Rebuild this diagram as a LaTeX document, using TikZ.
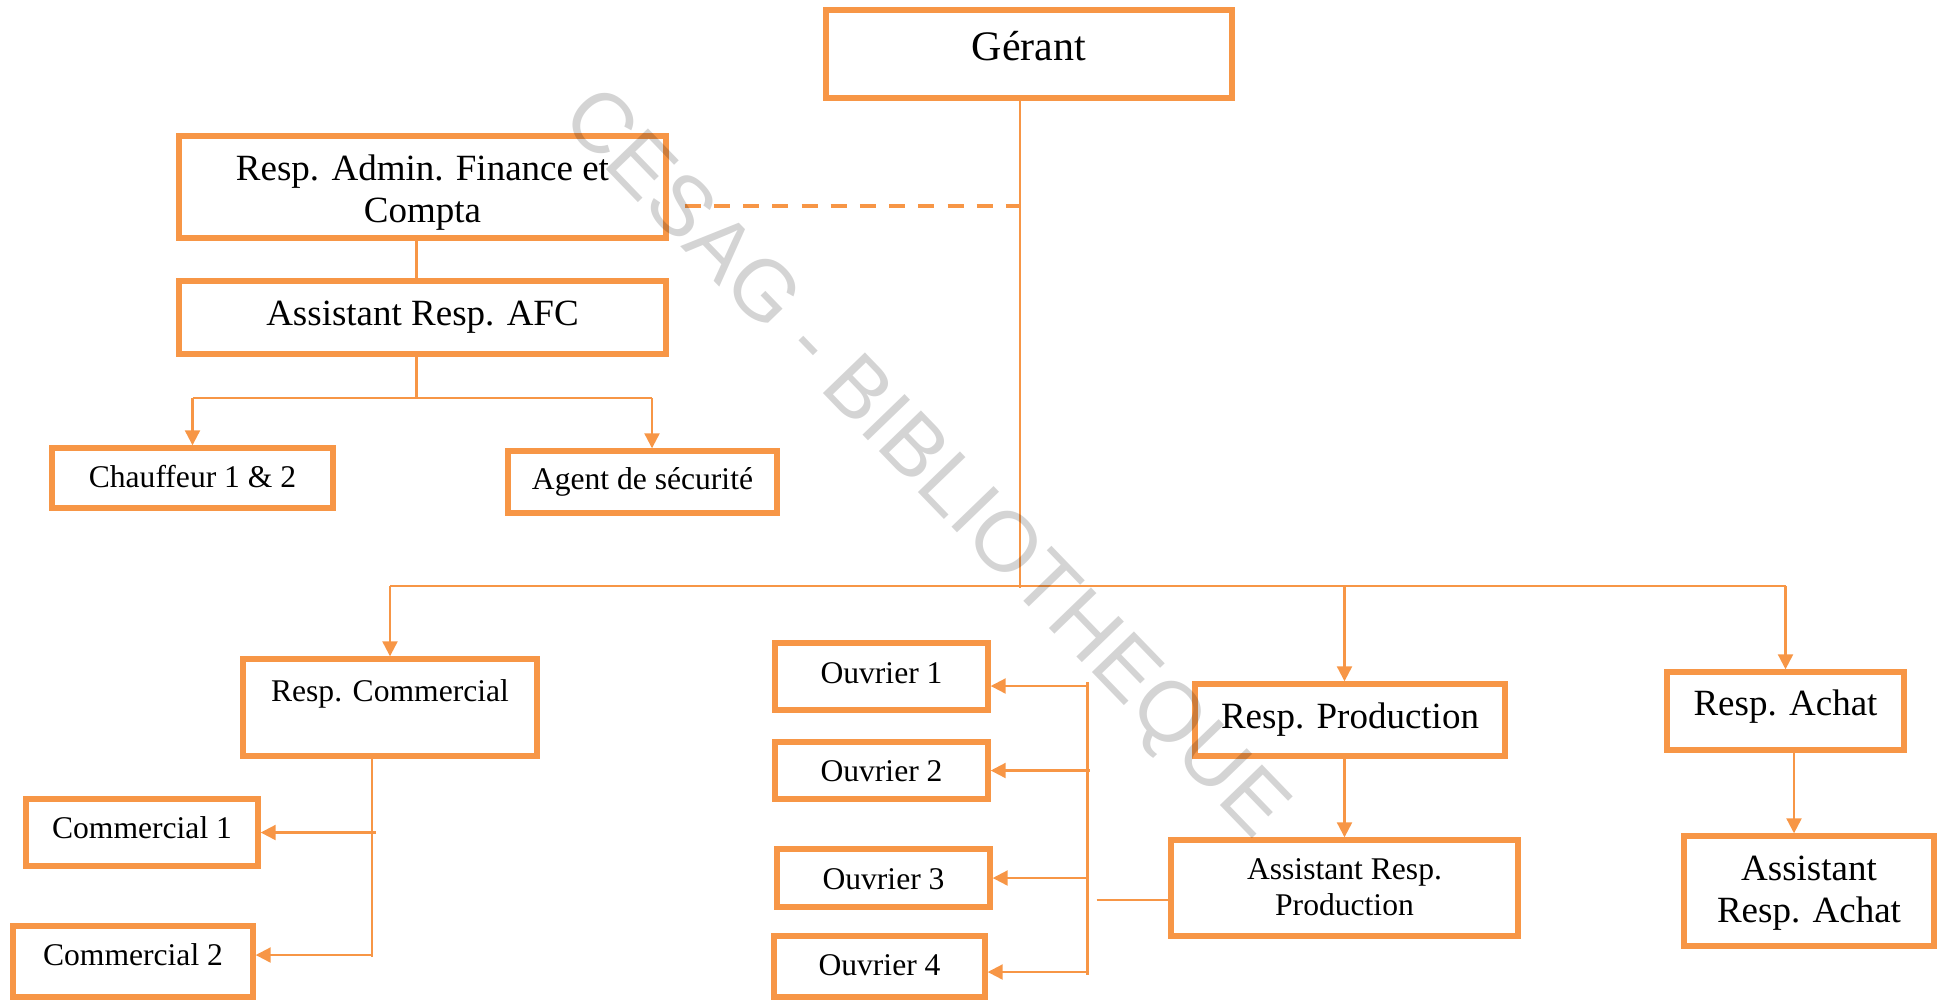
\documentclass[tikz,border=0pt]{standalone}
\usepackage{fontspec}
\setmainfont{Liberation Serif}
\newfontfamily\wmfont{Liberation Sans}
\usetikzlibrary{fit,arrows.meta}
\definecolor{orng}{HTML}{F79646}

\begin{document}
\begin{tikzpicture}[x=0.5bp,y=-0.5bp,
  box/.style={draw=orng, line width=2.7bp, inner sep=0pt},
  link/.style={draw=orng, line width=1.1bp},
  arr/.style={link, -{Triangle[length=7.5bp,width=7.5bp]}},
  dashlink/.style={draw=orng, line width=2bp, dash pattern=on 8bp off 6.6bp},
  head/.style={font=\fontsize{21bp}{25bp}\selectfont, anchor=base, inner sep=0pt},
  big/.style={font=\fontsize{18.5bp}{22bp}\selectfont, anchor=base, inner sep=0pt},
  small/.style={font=\fontsize{15.8bp}{19bp}\selectfont, anchor=base, inner sep=0pt},
  wm/.style={rotate=-46, font=\wmfont\fontsize{42.5bp}{50bp}\selectfont, text=black, text opacity=0.17, inner sep=0pt}
]
\useasboundingbox (0,0) rectangle (1946,1002);

% boxes
\node[box, fit={(826,10) (1232,98)}] (ger) {};
\node[box, fit={(179,136) (666,238)}] (adm) {};
\node[box, fit={(179,281) (666,354)}] (afc) {};
\node[box, fit={(52,448) (333,508)}] (chf) {};
\node[box, fit={(508,451) (777,513)}] (agt) {};
\node[box, fit={(243,659) (537,756)}] (rc) {};
\node[box, fit={(26,799) (258,866)}] (c1) {};
\node[box, fit={(13,926) (253,997)}] (c2) {};
\node[box, fit={(775,643) (988,710)}] (o1) {};
\node[box, fit={(775,742) (988,799)}] (o2) {};
\node[box, fit={(777,849) (990,907)}] (o3) {};
\node[box, fit={(774,936) (985,997)}] (o4) {};
\node[box, fit={(1195,684) (1505,756)}] (rp) {};
\node[box, fit={(1171,840) (1518,936)}] (arp) {};
\node[box, fit={(1667,672) (1904,750)}] (ra) {};
\node[box, fit={(1684,836) (1934,946)}] (ara) {};

% labels
\node[head] (gerT) at (ger |- 0,60.5) {Gérant};
\node[big] (admT1) at (adm |- 0,180) {Resp. Admin. Finance et};
\node[big] (admT2) at (adm |- 0,222) {Compta};
\node[big] (afcT) at (afc |- 0,325) {Assistant Resp. AFC};
\node[small] (chfT) at (chf |- 0,487) {Chauffeur 1 \& 2};
\node[small] (agtT) at (agt |- 0,489) {Agent de sécurité};
\node[small] (rcT) at (rc |- 0,701) {Resp. Commercial};
\node[small] (c1T) at (c1 |- 0,838) {Commercial 1};
\node[small] (c2T) at (c2 |- 0,965) {Commercial 2};
\node[small] (o1T) at (o1 |- 0,683) {Ouvrier 1};
\node[small] (o2T) at (o2 |- 0,781) {Ouvrier 2};
\node[small] (o3T) at (o3 |- 0,889) {Ouvrier 3};
\node[small] (o4T) at (o4 |- 0,975) {Ouvrier 4};
\node[big] (rpT) at (rp |- 0,728) {Resp. Production};
\node[small] (arpT1) at (arp |- 0,879) {Assistant Resp.};
\node[small] (arpT2) at (arp |- 0,915) {Production};
\node[big] (raT) at (ra |- 0,715) {Resp. Achat};
\node[big] (araT1) at (ara |- 0,880) {Assistant};
\node[big] (araT2) at (ara |- 0,922) {Resp. Achat};

% junction levels
\coordinate (spine) at ([xshift=-4.5bp]ger.south);
\coordinate (mainbus) at (0,586);
\coordinate (dashy) at (0,205.5);
\coordinate (afcbus) at (0,398);
\coordinate (rcdrop) at ([xshift=-9bp]rc.south);
\coordinate (obus) at (1087.5,682);

% top branch
\draw[link] (spine) -- (spine |- 0,588);
\draw[dashlink] ([xshift=8bp]adm.east |- dashy) -- (spine |- dashy);
\draw[link] ([xshift=-3bp]adm.south) -- ([xshift=-3bp]afc.north);
\draw[link] ([xshift=-3bp]afc.south) -- ([xshift=-3bp]afc.south |- afcbus);
\draw[link] (chf.north |- afcbus) -- ([xshift=4.75bp]agt.north |- afcbus);
\draw[arr] (chf.north |- afcbus) -- (chf.north);
\draw[arr] ([xshift=4.75bp]agt.north |- afcbus) -- ([xshift=4.75bp]agt.north);

% main bus
\draw[link] (rc.north |- mainbus) -- (ra.north |- mainbus);
\draw[arr] (rc.north |- mainbus) -- (rc.north);
\draw[arr] (arp.north |- mainbus) -- (arp.north |- rp.north);
\draw[arr] (ra.north |- mainbus) -- (ra.north);
\draw[arr] (arp.north |- rp.south) -- (arp.north);
\draw[arr] ([xshift=4.25bp]ra.south) -- ([xshift=4.25bp]ra.south |- ara.north);

% commercial branch
\draw[link] (rcdrop) -- (rcdrop |- 0,957);
\draw[arr] ([xshift=2bp]rcdrop |- c1.east) -- (c1.east);
\draw[arr] (rcdrop |- 0,955) -- (c2.east |- 0,955);

% workers
\draw[link] (obus) -- (obus |- 0,975);
\draw[arr] (obus |- 0,686) -- (o1.east |- 0,686);
\draw[arr] ([xshift=1bp]obus |- o2.east) -- (o2.east);
\draw[arr] (obus |- o3.east) -- (o3.east);
\draw[arr] (obus |- 0,972) -- (o4.east |- 0,972);
\draw[link] ([xshift=4.5bp]obus |- 0,900) -- (arp.west |- 0,900);

% watermark
\node[wm] (wmark) at (922.7,465.6) {CESAG - BIBLIOTHEQUE};
\end{tikzpicture}
\end{document}
